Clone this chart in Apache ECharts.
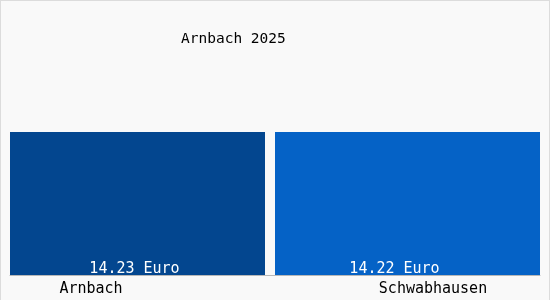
<!DOCTYPE html>
<html>
<head>
<meta charset="utf-8">
<script src="https://cdn.jsdelivr.net/npm/echarts@6/dist/echarts.min.js"></script>
<style>
html,body{margin:0;padding:0;background:#fff;}
#c{width:550px;height:300px;box-sizing:border-box;border:1px solid #dcdcdc;border-bottom:none;background:#f9f9f9;}
</style>
</head>
<body>
<div id="c"></div>
<script>
var titleText = 'Arnbach 2025';
var categories = ['Arnbach', 'Schwabhausen'];
var values = [14.23, 14.22];
var valueLabels = ['14.23 Euro', '14.22 Euro'];
var barColors = ['#03468f', '#0562c6'];

var FONT = '"DejaVu Sans Mono", "Liberation Mono", monospace';
var chart = echarts.init(document.getElementById('c'), null, {renderer: 'canvas'});

var labelOffsets = [[-3, 2], [-13, 2]];
var barWidths = [255, 265];

function seriesFor(i) {
  var data = categories.map(function (c, j) {
    if (j !== i) return '-';
    return {
      value: values[j],
      itemStyle: {color: barColors[j]},
      label: {offset: labelOffsets[j]}
    };
  });
  return {
    type: 'bar',
    data: data,
    barWidth: barWidths[i],
    barGap: '-100%',
    animation: false,
    label: {
      show: true,
      position: 'insideBottom',
      distance: 0,
      color: '#ffffff',
      fontFamily: FONT,
      fontSize: 15,
      formatter: function (p) { return valueLabels[p.dataIndex]; }
    }
  };
}

chart.setOption({
  animation: false,
  backgroundColor: 'transparent',
  title: {
    text: titleText,
    left: 180,
    top: 31,
    padding: 0,
    textStyle: {fontFamily: FONT, fontSize: 14.5, fontWeight: 'normal', color: '#000'}
  },
  grid: {left: 9, right: 9, top: 73, bottom: 25},
  xAxis: {
    type: 'category',
    data: categories,
    axisLine: {show: true, lineStyle: {color: '#b8b8b8', width: 1}},
    axisTick: {show: false},
    axisLabel: {
      margin: 7,
      fontFamily: FONT,
      fontSize: 15,
      color: '#000',
      formatter: function (v, i) { return i === 0 ? '{a|' + v + '}' : '{b|' + v + '}'; },
      rich: {
        a: {fontFamily: FONT, fontSize: 15, color: '#000', padding: [0, 103, 0, 0]},
        b: {fontFamily: FONT, fontSize: 15, color: '#000', padding: [0, 0, 0, 51]}
      }
    }
  },
  yAxis: {
    type: 'value',
    min: 0,
    max: 20,
    show: false,
    splitLine: {show: false}
  },
  series: [seriesFor(0), seriesFor(1)]
});
</script>
</body>
</html>
